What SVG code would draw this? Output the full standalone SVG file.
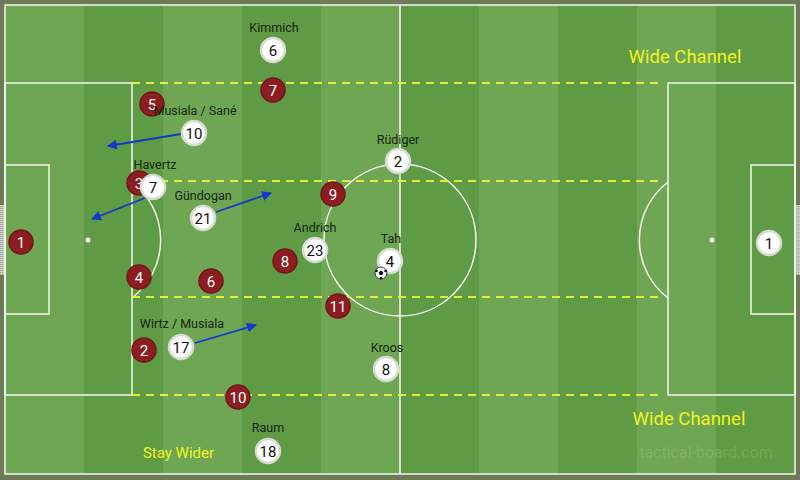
<svg xmlns="http://www.w3.org/2000/svg" width="800" height="480" viewBox="0 0 800 480">
<defs>
<style>
.line{fill:none;stroke:#f4f8f0;stroke-width:1.5}
.dash{fill:none;stroke:#e4ef3a;stroke-width:2;stroke-dasharray:8 6}
.red circle{fill:#8c1d20;stroke:#731517;stroke-width:1.5}
.red text{fill:#ffffff;font-family:Roboto,"Liberation Sans",sans-serif;font-size:15px;text-anchor:middle}
.wht circle{fill:#ffffff;stroke:#d6dcd2;stroke-width:2.5}
.wht text{fill:#111111;font-family:Roboto,"Liberation Sans",sans-serif;font-size:15px;text-anchor:middle}
.lbl{fill:#15260f;font-family:Roboto,"Liberation Sans",sans-serif;font-size:12.5px;text-anchor:middle}
.note{fill:#f0f41e;font-family:Roboto,"Liberation Sans",sans-serif;text-anchor:middle}
.run{fill:none;stroke:#1636d0;stroke-width:1.8;marker-end:url(#ah)}
</style>
<marker id="ah" viewBox="0 0 10 10" refX="9" refY="5" markerWidth="10" markerHeight="10" markerUnits="userSpaceOnUse" orient="auto">
<path d="M0,0 L10,5 L0,10 z" fill="#1636d0"/>
</marker>
<pattern id="net" width="2" height="2" patternUnits="userSpaceOnUse">
<rect width="2" height="2" fill="#c8cbc0"/><rect width="1" height="1" fill="#9ea394"/>
</pattern>
</defs>
<rect x="0" y="0" width="800" height="480" fill="#6c7b55"/>
<g id="pitch">
<rect x="5" y="5" width="79" height="469" fill="#6fa653"/>
<rect x="84" y="5" width="79" height="469" fill="#5f9b44"/>
<rect x="163" y="5" width="79" height="469" fill="#6fa653"/>
<rect x="242" y="5" width="79" height="469" fill="#5f9b44"/>
<rect x="321" y="5" width="79" height="469" fill="#6fa653"/>
<rect x="400" y="5" width="79" height="469" fill="#5f9b44"/>
<rect x="479" y="5" width="79" height="469" fill="#6fa653"/>
<rect x="558" y="5" width="79" height="469" fill="#5f9b44"/>
<rect x="637" y="5" width="79" height="469" fill="#6fa653"/>
<rect x="716" y="5" width="79" height="469" fill="#5f9b44"/>
<rect x="0" y="205" width="4" height="70" fill="url(#net)"/>
<rect x="796" y="205" width="4" height="70" fill="url(#net)"/>
<rect class="line" x="5" y="5" width="790" height="469"/>
<line class="line" x1="400" y1="5" x2="400" y2="474"/>
<circle class="line" cx="400" cy="240" r="76"/>
<rect class="line" x="5" y="83" width="127" height="312"/>
<rect class="line" x="5" y="165" width="44" height="149"/>
<rect class="line" x="668" y="83" width="127" height="312"/>
<rect class="line" x="751" y="165" width="44" height="149"/>
<circle cx="88" cy="240" r="2.5" fill="#ffffff"/>
<circle cx="712" cy="240" r="2.5" fill="#ffffff"/>
<path class="line" d="M132,182 A73,73 0 0 1 132,298"/>
<path class="line" d="M668,182 A73,73 0 0 0 668,298"/>
<text x="706" y="458" fill="#ffffff" fill-opacity="0.13" font-family="Roboto,'Liberation Sans',sans-serif" font-size="16" text-anchor="middle">tactical-board.com</text>
</g>
<g id="connectors">
<line class="dash" x1="132" y1="83" x2="662" y2="83"/>
<line class="dash" x1="160" y1="181" x2="662" y2="181"/>
<line class="dash" x1="132" y1="297" x2="662" y2="297"/>
<line class="dash" x1="132" y1="395" x2="662" y2="395"/>
<line class="run" x1="181" y1="134" x2="108" y2="146"/>
<line class="run" x1="145" y1="198" x2="92" y2="219"/>
<line class="run" x1="216" y1="212" x2="271" y2="193"/>
<line class="run" x1="195" y1="343" x2="256" y2="325"/>
</g>
<g id="red-players" class="red">
<g id="r1"><circle cx="21" cy="242" r="12"/><text x="21" y="247.5">1</text></g>
<g id="r5"><circle cx="152" cy="104" r="12"/><text x="152" y="109.5">5</text></g>
<g id="r7"><circle cx="273" cy="90" r="12"/><text x="273" y="95.5">7</text></g>
<g id="r3"><circle cx="139" cy="183" r="12"/><text x="139" y="188.5">3</text></g>
<g id="r4"><circle cx="139" cy="277" r="12"/><text x="139" y="282.5">4</text></g>
<g id="r6"><circle cx="211" cy="281" r="12"/><text x="211" y="286.5">6</text></g>
<g id="r9"><circle cx="333" cy="194" r="12"/><text x="333" y="199.5">9</text></g>
<g id="r8"><circle cx="285" cy="261" r="12"/><text x="285" y="266.5">8</text></g>
<g id="r11"><circle cx="338" cy="306" r="12"/><text x="338" y="311.5">11</text></g>
<g id="r2"><circle cx="144" cy="350" r="12"/><text x="144" y="355.5">2</text></g>
<g id="r10"><circle cx="238" cy="397" r="12"/><text x="238" y="402.5">10</text></g>
</g>
<g id="white-players" class="wht">
<g id="w6"><circle cx="273" cy="50" r="12"/><text x="273" y="55.5">6</text></g>
<g id="w10"><circle cx="194" cy="133" r="12"/><text x="194" y="138.5">10</text></g>
<g id="w7"><circle cx="153" cy="187" r="12"/><text x="153" y="192.5">7</text></g>
<g id="w21"><circle cx="203" cy="218" r="12"/><text x="203" y="223.5">21</text></g>
<g id="w2"><circle cx="398" cy="161" r="12"/><text x="398" y="166.5">2</text></g>
<g id="w23"><circle cx="315" cy="250" r="12"/><text x="315" y="255.5">23</text></g>
<g id="w4"><circle cx="390" cy="261" r="12"/><text x="390" y="266.5">4</text></g>
<g id="w17"><circle cx="181" cy="347" r="12"/><text x="181" y="352.5">17</text></g>
<g id="w8"><circle cx="386" cy="369" r="12"/><text x="386" y="374.5">8</text></g>
<g id="w18"><circle cx="268" cy="451" r="12"/><text x="268" y="456.5">18</text></g>
<g id="w1"><circle cx="769" cy="243" r="12"/><text x="769" y="248.5">1</text></g>
</g>
<g id="ball">
<circle cx="381" cy="273" r="6" fill="#ffffff" stroke="#111" stroke-width="0.8"/>
<polygon points="381,270.5 383.4,272.2 382.5,275 379.5,275 378.6,272.2" fill="#111"/>
<circle cx="376.5" cy="271" r="1.3" fill="#111"/>
<circle cx="385.5" cy="271" r="1.3" fill="#111"/>
<circle cx="381" cy="278" r="1.2" fill="#111"/>
</g>
<g id="labels">
<text class="lbl" x="274" y="32">Kimmich</text>
<text class="lbl" x="195" y="115">Musiala / Sané</text>
<text class="lbl" x="155" y="169">Havertz</text>
<text class="lbl" x="203" y="200">Gündogan</text>
<text class="lbl" x="398" y="144">Rüdiger</text>
<text class="lbl" x="315" y="232">Andrich</text>
<text class="lbl" x="391" y="243">Tah</text>
<text class="lbl" x="182" y="328">Wirtz / Musiala</text>
<text class="lbl" x="387" y="352">Kroos</text>
<text class="lbl" x="268" y="432">Raum</text>
<text class="note" x="685" y="63" font-size="18.5">Wide Channel</text>
<text class="note" x="689" y="425" font-size="18.5">Wide Channel</text>
<text class="note" x="178.5" y="458" font-size="15">Stay Wider</text>
</g>
</svg>
